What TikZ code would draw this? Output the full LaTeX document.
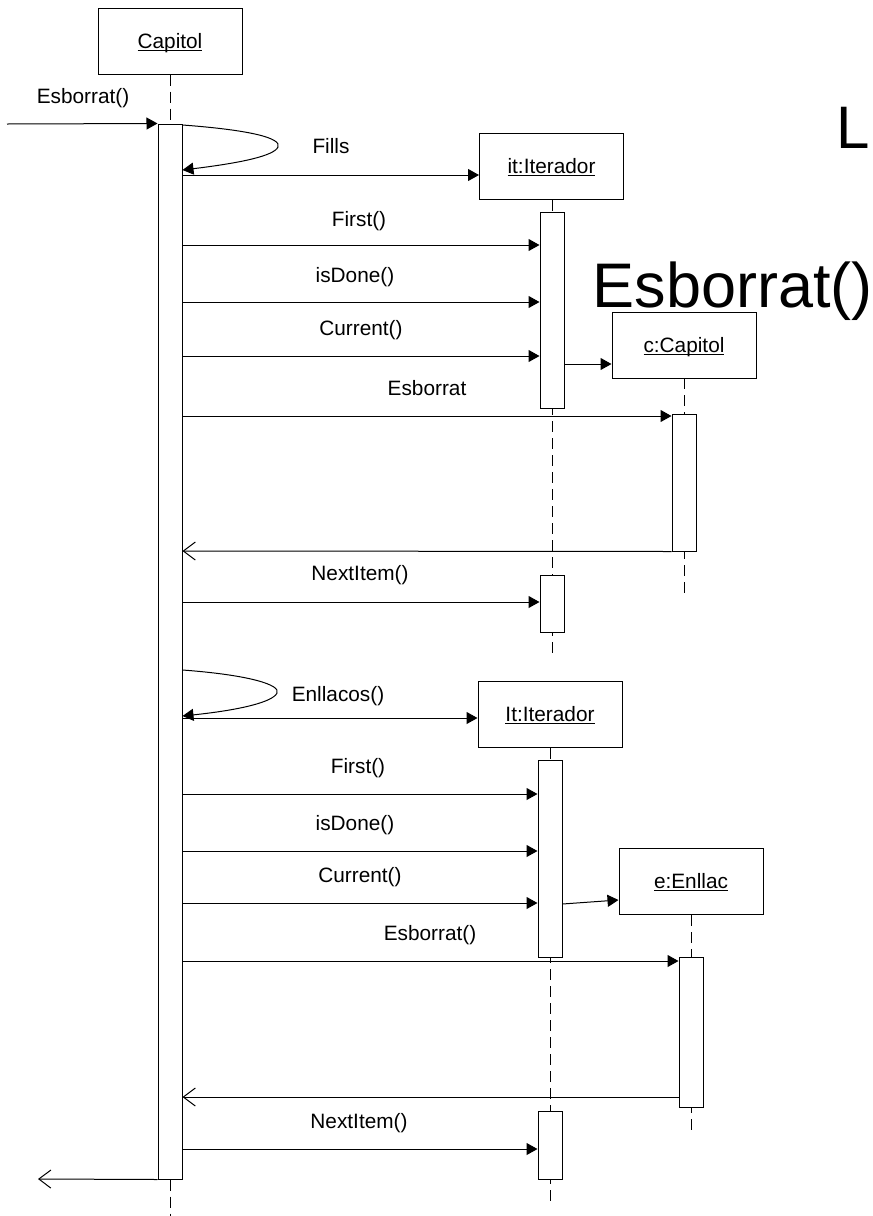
\documentclass[tikz,border=0pt]{standalone}
\usepackage{fontspec}
\setmainfont{Liberation Sans}
\usetikzlibrary{arrows.meta}
\newcommand\lblfont{\fontsize{20.8}{25}\selectfont}
\newcommand\ulc[1]{\setbox0\hbox{#1}\rlap{\rule[-2.8pt]{\wd0}{1.1pt}}\box0}
\begin{document}
\begin{tikzpicture}[x=1pt,y=-1pt, line width=1pt,
  objbox/.style={draw, minimum width=144pt, minimum height=66pt, inner sep=0pt, text height=15pt, text depth=1pt, font=\lblfont},
  act/.style={draw, fill=white, minimum width=24pt, inner sep=0pt},
  life/.style={dash pattern=on 11pt off 6pt},
  msg/.style={-{Triangle[length=11pt,width=12pt]}},
  ret/.style={-{Straight Barb[length=12pt,width=18pt]}},
  lbl/.style={anchor=base, inner sep=0pt, font=\lblfont}]
\useasboundingbox (0,0) rectangle (873,1216);

% object boxes
\node[objbox] (capitol) at (170,41) {\ulc{Capitol}};
\node[objbox] (it1) at (551.5,166.5) {\ulc{it:Iterador}};
\node[objbox] (c) at (684,345) {\ulc{c:Capitol}};
\node[objbox] (it2) at (550,714.5) {\ulc{It:Iterador}};
\node[objbox] (e) at (691,881.5) {\ulc{e:Enllac}};

% lifelines
\draw[life] (capitol.south) -- (170,1216);
\draw[life] (552,200) -- (552,655);
\draw[life] (684,378) -- (684,597);
\draw[life] (550,748) -- (550,1202);
\draw[life] (691,915) -- (691,1135);

% activations
\node[act, minimum height=1055pt] (main) at (170,651.5) {};
\node[act, minimum height=196pt] (it1a) at (552,310) {};
\node[act, minimum height=57pt] (it1b) at (552,603.5) {};
\node[act, minimum height=137pt] (ca) at (684,482.5) {};
\node[act, minimum height=197pt] (it2a) at (550,858.5) {};
\node[act, minimum height=150pt] (ea) at (691,1032) {};
\node[act, minimum height=68pt] (it2b) at (550,1145) {};

% big texts
\node[anchor=base west, inner sep=0pt, font=\fontsize{60}{72}\selectfont] (bigL) at (836,148) {L};
\node[anchor=base west, inner sep=0pt, font=\fontsize{63}{76}\selectfont] (bigE) at (592,307) {Esborrat()};

% incoming / outgoing
\coordinate (in) at (7,124);
\coordinate (out) at (38,1179);
\draw[msg] (in) -- (main.north west);
\draw[ret] (main.south west) -- (out);
\node[lbl] (l0) at (83,103) {Esborrat()};

% first block
\draw[msg] (main.east |- 0,125) .. controls (250,130) and (282,138) .. (278,147) .. controls (274,156) and (240,163) .. (main.east |- 0,170);
\draw[msg] (main.east |- 0,175) -- (it1.west |- 0,175);
\node[lbl] (l1) at (331,153) {Fills};
\draw[msg] (main.east |- 0,245) -- (it1a.west |- 0,245);
\node[lbl] (l2) at (359,226) {First()};
\draw[msg] (main.east |- 0,302) -- (it1a.west |- 0,302);
\node[lbl] (l3) at (355,282) {isDone()};
\draw[msg] (main.east |- 0,356) -- (it1a.west |- 0,356);
\node[lbl] (l4) at (361,335) {Current()};
\draw[msg] (it1a.east |- 0,364) -- (c.west |- 0,364);
\draw[msg] (main.east |- 0,416) -- (ca.west |- 0,416);
\node[lbl] (l5) at (427,395) {Esborrat};
\draw[ret] (ca.south west) -- (main.east |- 0,551);
\draw[msg] (main.east |- 0,602) -- (it1b.west |- 0,602);
\node[lbl] (l6) at (360,580) {NextItem()};

% second block
\draw[msg] (main.east |- 0,670) .. controls (250,675) and (281,685) .. (277,693) .. controls (273,702) and (240,710) .. (main.east |- 0,716);
\draw[msg] (main.east |- 0,718) -- (it2.west |- 0,718);
\node[lbl] (l7) at (338,701) {Enllacos()};
\draw[msg] (main.east |- 0,794) -- (it2a.west |- 0,794);
\node[lbl] (l8) at (358,773) {First()};
\draw[msg] (main.east |- 0,851) -- (it2a.west |- 0,851);
\node[lbl] (l9) at (355,830) {isDone()};
\draw[msg] (main.east |- 0,903) -- (it2a.west |- 0,903);
\node[lbl] (l10) at (360,882) {Current()};
\draw[msg] (it2a.east |- 0,904) -- (e.west |- 0,900);
\draw[msg] (main.east |- 0,961) -- (ea.west |- 0,961);
\node[lbl] (l11) at (430,940) {Esborrat()};
\draw[ret] (ea.west |- 0,1097) -- (main.east |- 0,1097);
\draw[msg] (main.east |- 0,1149) -- (it2b.west |- 0,1149);
\node[lbl] (l12) at (359,1128) {NextItem()};
\end{tikzpicture}
\end{document}
